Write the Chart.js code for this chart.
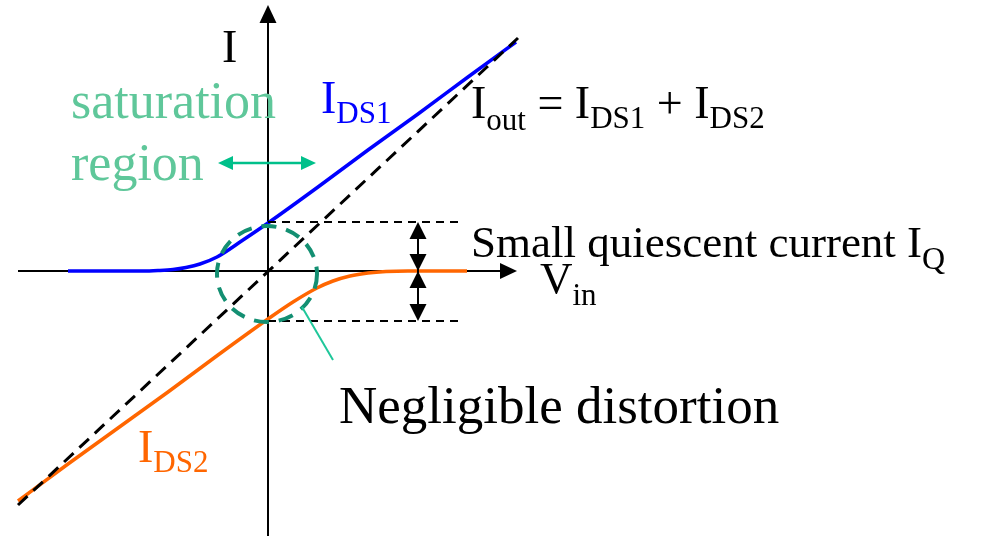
<!DOCTYPE html>
<html>
<head>
<meta charset="utf-8">
<script src="https://cdn.jsdelivr.net/npm/chart.js@4"></script>
<style>
  html, body { margin: 0; padding: 0; background: #fff; }
  #wrap { width: 988px; height: 536px; }
</style>
</head>
<body>
<div id="wrap"><canvas id="chart"></canvas></div>
<script>
// values (Vin and I in arbitrary units)
const vinDS1 = [-200, -125, -110, -95, -82, -68, -51, -25, 0, 50, 100, 150, 200, 248];
const iDS1 = [0, 0, 0.5, 1.5, 3.5, 7, 14, 31, 48, 84, 121, 157, 194, 229];

const vinDS2 = [-250, -200, -150, -100, -50, 0, 25, 49, 65, 82, 100, 118, 140, 199];
const iDS2 = [-230, -193, -157, -121, -84, -48, -31, -17, -10, -5, -2, -0.5, 0, 0];

const vinOut = [-250, 250];
const iOut = [-234, 233];

// quiescent current levels (dashed guides)
const vinIQ = [0, 194];
const iqHigh = [49, 49];
const iqLow = [-50, -50];

const pts = (xs, ys) => xs.map((x, i) => ({ x: x, y: ys[i] }));

const serif = '"Liberation Serif", "Times New Roman", serif';

function arrowHead(ctx, x, y, ang, len, wid) {
  ctx.save();
  ctx.translate(x, y);
  ctx.rotate(ang);
  ctx.beginPath();
  ctx.moveTo(0, 0);
  ctx.lineTo(-len, -wid / 2);
  ctx.lineTo(-len, wid / 2);
  ctx.closePath();
  ctx.fill();
  ctx.restore();
}

// draws "main" then a subscript after it
function subText(ctx, main, sub, x, y, size, subSize, drop) {
  ctx.font = size + "px " + serif;
  ctx.fillText(main, x, y);
  const w = ctx.measureText(main).width;
  ctx.font = subSize + "px " + serif;
  ctx.fillText(sub, x + w, y + drop);
  return x + w + ctx.measureText(sub).width;
}

const axesPlugin = {
  id: "axes",
  beforeDatasetsDraw(chart) {
    const { ctx, scales: { x, y } } = chart;
    const x0 = x.getPixelForValue(0);
    const y0 = y.getPixelForValue(0);
    ctx.save();
    ctx.strokeStyle = "#000";
    ctx.fillStyle = "#000";
    ctx.lineWidth = 2;
    // vertical axis
    ctx.beginPath();
    ctx.moveTo(x0, 536);
    ctx.lineTo(x0, 20);
    ctx.stroke();
    arrowHead(ctx, x0, 5, -Math.PI / 2, 18, 17);
    // horizontal axis
    ctx.beginPath();
    ctx.moveTo(18, y0);
    ctx.lineTo(502, y0);
    ctx.stroke();
    arrowHead(ctx, 517, y0, 0, 17, 16);
    ctx.restore();
  },
  afterDatasetsDraw(chart) {
    const { ctx, scales: { x, y } } = chart;
    const y0 = y.getPixelForValue(0);
    const yHi = y.getPixelForValue(iqHigh[0]);
    const yLo = y.getPixelForValue(iqLow[0]);
    ctx.save();

    // double arrows for quiescent current
    const ax = 418;
    ctx.strokeStyle = "#000";
    ctx.fillStyle = "#000";
    ctx.lineWidth = 2;
    ctx.beginPath();
    ctx.moveTo(ax, yHi + 10);
    ctx.lineTo(ax, yLo - 10);
    ctx.stroke();
    arrowHead(ctx, ax, yHi, -Math.PI / 2, 17, 17);
    arrowHead(ctx, ax, y0, Math.PI / 2, 17, 17);
    arrowHead(ctx, ax, y0, -Math.PI / 2, 17, 17);
    arrowHead(ctx, ax, yLo, Math.PI / 2, 17, 17);

    // dashed circle around the crossover
    ctx.strokeStyle = "#138f72";
    ctx.lineWidth = 4;
    ctx.setLineDash([15, 10]);
    ctx.beginPath();
    ctx.ellipse(267, 274, 50, 48, 0, 0, Math.PI * 2);
    ctx.stroke();
    ctx.setLineDash([]);

    // leader line
    ctx.strokeStyle = "#1fc79a";
    ctx.lineWidth = 2;
    ctx.beginPath();
    ctx.moveTo(302, 307);
    ctx.lineTo(333, 360);
    ctx.stroke();

    // saturation region arrow
    ctx.strokeStyle = "#00c08a";
    ctx.fillStyle = "#00c08a";
    ctx.lineWidth = 2.5;
    ctx.beginPath();
    ctx.moveTo(230, 163);
    ctx.lineTo(304, 163);
    ctx.stroke();
    arrowHead(ctx, 218, 163, Math.PI, 15, 14);
    arrowHead(ctx, 316, 163, 0, 15, 14);

    // texts
    ctx.textBaseline = "alphabetic";
    ctx.fillStyle = "#000";
    ctx.font = "46px " + serif;
    ctx.fillText("I", 222, 62);

    ctx.fillStyle = "#5fc79a";
    ctx.font = "52px " + serif;
    ctx.fillText("saturation", 71, 118);
    ctx.fillText("region", 71, 180);

    ctx.fillStyle = "#0000ff";
    subText(ctx, "I", "DS1", 321, 113, 46, 31, 10);

    ctx.fillStyle = "#ff6600";
    subText(ctx, "I", "DS2", 138, 462, 46, 31, 10);

    ctx.fillStyle = "#000";
    let cx = subText(ctx, "I", "out", 471, 118, 46, 31, 12);
    ctx.font = "46px " + serif;
    ctx.fillText(" = ", cx, 118);
    cx += ctx.measureText(" = ").width;
    cx = subText(ctx, "I", "DS1", cx, 118, 46, 31, 10);
    ctx.font = "46px " + serif;
    ctx.fillText(" + ", cx, 118);
    cx += ctx.measureText(" + ").width;
    subText(ctx, "I", "DS2", cx, 118, 46, 31, 10);

    subText(ctx, "Small quiescent current I", "Q", 471, 257, 45, 32, 12);
    subText(ctx, "V", "in", 540, 293, 45, 31, 12);

    ctx.font = "53px " + serif;
    ctx.fillText("Negligible distortion", 339, 423);
    ctx.restore();
  }
};

const lineDs = (label, data, color, width, dash) => ({
  label: label,
  data: data,
  borderColor: color,
  borderWidth: width,
  borderDash: dash || [],
  pointRadius: 0,
  showLine: true,
  fill: false,
  cubicInterpolationMode: "monotone"
});

new Chart(document.getElementById("chart"), {
  type: "scatter",
  data: {
    datasets: [
      lineDs("IQ high", pts(vinIQ, iqHigh), "#000", 1.8, [8, 6]),
      lineDs("IQ low", pts(vinIQ, iqLow), "#000", 1.8, [8, 6]),
      lineDs("Iout", pts(vinOut, iOut), "#000", 3, [13, 8]),
      lineDs("IDS1", pts(vinDS1, iDS1), "#0000ff", 3.5),
      lineDs("IDS2", pts(vinDS2, iDS2), "#ff6600", 3.5)
    ]
  },
  options: {
    responsive: true,
    maintainAspectRatio: false,
    animation: false,
    layout: { padding: 0 },
    plugins: { legend: { display: false }, tooltip: { enabled: false } },
    scales: {
      x: { type: "linear", min: -268, max: 720, display: false },
      y: { type: "linear", min: -265, max: 271, display: false }
    }
  },
  plugins: [axesPlugin]
});
</script>
</body>
</html>
